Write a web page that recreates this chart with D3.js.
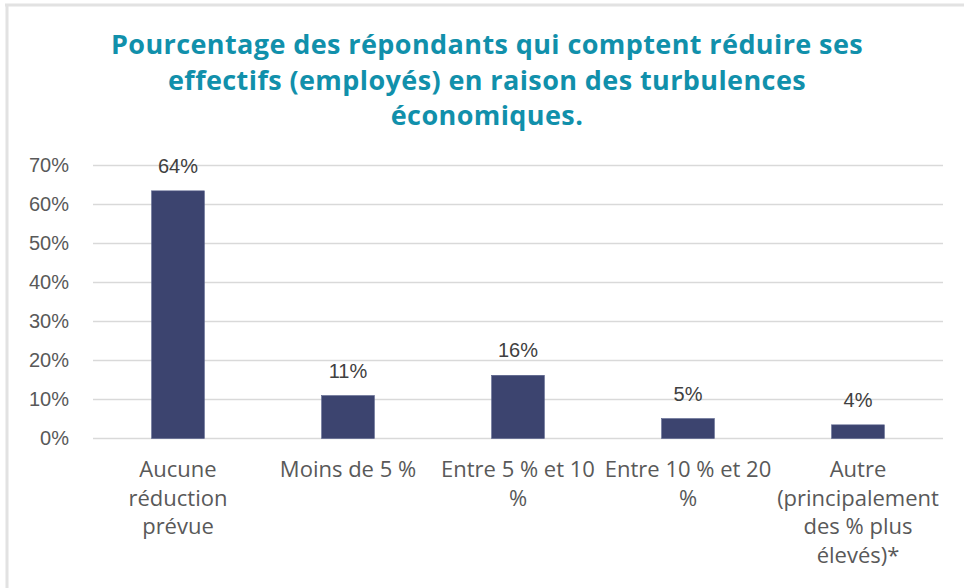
<!DOCTYPE html>
<html>
<head>
<meta charset="utf-8">
<script src="https://cdn.jsdelivr.net/npm/d3@7"></script>
<style>
  body { margin: 0; background: #fff; }
  svg { display: block; }
</style>
</head>
<body>
<script>
// chart data
var categories = ["Aucune réduction prévue", "Moins de 5 %", "Entre 5 % et 10 %", "Entre 10 % et 20 %", "Autre (principalement des % plus élevés)*"];
// category labels as Excel wrapped them
var categoryLines = [
  ["Aucune", "réduction", "prévue"],
  ["Moins de 5 %"],
  ["Entre 5 % et 10", "%"],
  ["Entre 10 % et 20", "%"],
  ["Autre", "(principalement", "des % plus", "élevés)*"]
];
var values = [0.635, 0.11, 0.162, 0.051, 0.035];
var yTicks = [0, 0.1, 0.2, 0.3, 0.4, 0.5, 0.6, 0.7];
var titleLines = [
  "Pourcentage des répondants qui comptent réduire ses",
  "effectifs (employés) en raison des turbulences",
  "économiques."
];

var width = 964, height = 588;
var svg = d3.select("body").append("svg")
  .attr("width", width)
  .attr("height", height);

// frame lines (top + left edge of the chart box)
svg.append("line").attr("x1", 5).attr("x2", width).attr("y1", 5).attr("y2", 5)
  .attr("stroke", "#e2e2e2").attr("stroke-width", 3);
svg.append("line").attr("x1", 7).attr("x2", 7).attr("y1", 5).attr("y2", height)
  .attr("stroke", "#e2e2e2").attr("stroke-width", 3);

// title
svg.append("g").selectAll("text")
  .data(titleLines)
  .enter().append("text")
    .attr("x", 487)
    .attr("y", function (d, i) { return 54 + i * 35.5; })
    .attr("text-anchor", "middle")
    .style("font-family", "'Open Sans', sans-serif")
    .style("font-weight", "700")
    .style("font-size", "27px")
    .style("letter-spacing", "0.4px")
    .style("fill", "#1190ab")
    .text(function (d) { return d; });

// plot area
var x = d3.scaleBand().domain(categories).range([93, 943]).paddingInner(0.69).paddingOuter(0.345);
var y = d3.scaleLinear().domain([0, 0.7]).range([438.5, 165.5]);

// gridlines
svg.append("g").selectAll("line")
  .data(yTicks)
  .enter().append("line")
    .attr("x1", 93).attr("x2", 943)
    .attr("y1", function (d) { return y(d); })
    .attr("y2", function (d) { return y(d); })
    .attr("stroke", "#d9d9d9")
    .attr("stroke-width", 1.5);

// y axis labels
var yAxis = d3.axisLeft(y).tickValues(yTicks).tickFormat(d3.format(".0%")).tickSize(0).tickPadding(0);
var yg = svg.append("g").attr("transform", "translate(69,0)").call(yAxis);
yg.select(".domain").remove();
yg.selectAll("text")
  .style("font-family", "'Liberation Sans', Arial, sans-serif")
  .style("font-size", "20px")
  .style("fill", "#595959");

// bars
svg.append("g").selectAll("rect")
  .data(values)
  .enter().append("rect")
    .attr("x", function (d, i) { return x(categories[i]); })
    .attr("y", function (d) { return y(d); })
    .attr("width", x.bandwidth())
    .attr("height", function (d) { return y(0) - y(d); })
    .attr("fill", "#3c446f")
    .attr("stroke", "#56608a")
    .attr("stroke-width", 0.6);

// value labels
svg.append("g").selectAll("text")
  .data(values)
  .enter().append("text")
    .attr("x", function (d, i) { return x(categories[i]) + x.bandwidth() / 2; })
    .attr("y", function (d) { return y(d) - 18; })
    .attr("text-anchor", "middle")
    .style("font-family", "'Liberation Sans', Arial, sans-serif")
    .style("font-size", "20px")
    .style("fill", "#404040")
    .text(function (d) { return Math.round(d * 100) + "%"; });

// category labels
var cat = svg.append("g").selectAll("text")
  .data(categoryLines)
  .enter().append("text")
    .attr("text-anchor", "middle")
    .style("font-family", "'Open Sans', sans-serif")
    .style("font-size", "22px")
    .style("fill", "#595959");
cat.selectAll("tspan")
  .data(function (d, i) { return d.map(function (t) { return { t: t, i: i }; }); })
  .enter().append("tspan")
    .attr("x", function (d) { return x(categories[d.i]) + x.bandwidth() / 2; })
    .attr("y", function (d, j) { return 477 + j * 28.5; })
    .text(function (d) { return d.t; });
</script>
</body>
</html>
